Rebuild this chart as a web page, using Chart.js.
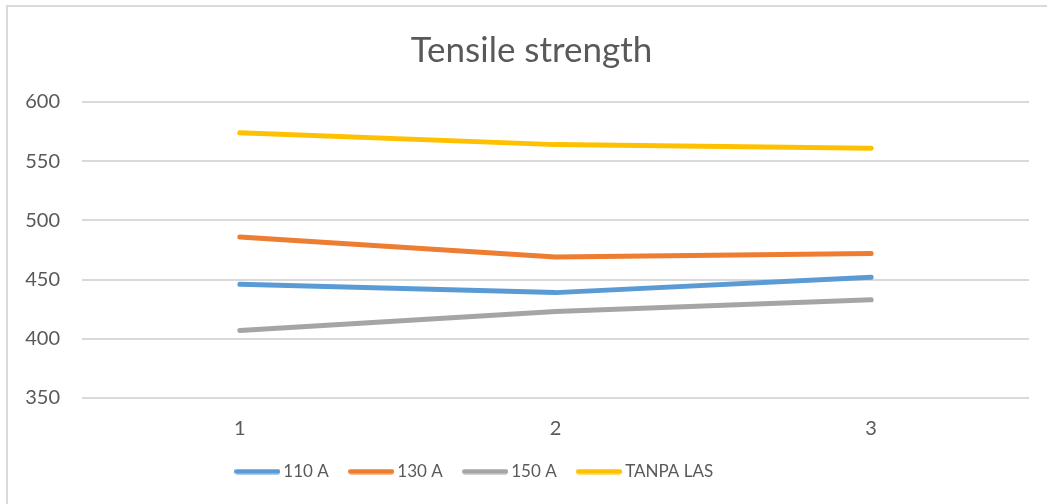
<!DOCTYPE html>
<html><head><meta charset="utf-8">
<script src="https://cdn.jsdelivr.net/npm/chart.js@4"></script>
<style>html,body{margin:0;padding:0;background:#fff}#wrap{width:1047px;height:504px;position:relative}</style>
</head><body><div id="wrap"><canvas id="c" width="1047" height="504"></canvas></div>
<script>
const categories = ['1', '2', '3'];
const seriesNames = ['110 A', '130 A', '150 A', 'TANPA LAS'];
const values110 = [446, 439, 452];
const values130 = [486, 469, 472];
const values150 = [407, 423, 433];
const valuesTanpa = [574, 564, 561];
const yTickValues = [350, 400, 450, 500, 550, 600];
const seriesColors = ['#5B9BD5', '#ED7D31', '#A5A5A5', '#FFC000'];

const txt = '#595959';
const FONT = 'Lato';

function legendLine(color) {
  const c = document.createElement('canvas');
  c.width = 46; c.height = 6;
  const g = c.getContext('2d');
  g.strokeStyle = color;
  g.lineWidth = 5;
  g.lineCap = 'round';
  g.beginPath();
  g.moveTo(2.5, 3);
  g.lineTo(43.5, 3);
  g.stroke();
  return c;
}

const frame = {
  id: 'frame',
  beforeDraw(chart) {
    const ctx = chart.ctx;
    ctx.save();
    ctx.fillStyle = '#fff';
    ctx.fillRect(0, 0, chart.width, chart.height);
    ctx.strokeStyle = '#d9d9d9';
    ctx.lineWidth = 2;
    ctx.beginPath();
    ctx.moveTo(7, chart.height);
    ctx.lineTo(7, 6);
    ctx.lineTo(chart.width, 6);
    ctx.stroke();
    ctx.restore();
  }
};

// nudge title and legend boxes horizontally to sit where the reference has them
const boxShift = {
  id: 'boxShift',
  afterLayout(chart) {
    const lg = chart.legend;
    if (lg) { lg.left -= 38; lg.right -= 38; }
    const tt = chart.titleBlock;
    if (tt) { tt.left += 17; tt.right += 17; }
  }
};

const allSeries = [values110, values130, values150, valuesTanpa];
new Chart(document.getElementById('c'), {
  type: 'line',
  data: {
    labels: categories,
    datasets: allSeries.map((v, i) => ({
      label: seriesNames[i],
      data: v,
      borderColor: seriesColors[i],
      backgroundColor: seriesColors[i],
      borderWidth: 5,
      borderCapStyle: 'round',
      borderJoinStyle: 'round',
      pointRadius: 0,
      pointHoverRadius: 0,
      pointStyle: legendLine(seriesColors[i]),
      tension: 0,
      fill: false
    }))
  },
  options: {
    responsive: false,
    animation: false,
    devicePixelRatio: 1,
    layout: { padding: { left: 0, right: 18, top: 0, bottom: 14 } },
    plugins: {
      title: {
        display: true,
        text: 'Tensile strength',
        color: txt,
        font: { family: FONT, size: 35, weight: 'normal' },
        padding: { top: 30, bottom: 30 }
      },
      legend: {
        position: 'bottom',
        labels: {
          usePointStyle: true,
          pointStyleWidth: 35,
          color: txt,
          font: { family: FONT, size: 17 },
          padding: 25
        }
      },
      tooltip: { enabled: false }
    },
    scales: {
      x: {
        offset: true,
        grid: { display: false, drawTicks: false },
        border: { display: false },
        ticks: { color: txt, font: { family: FONT, size: 20 }, padding: 19 },
        afterFit(s) { s.height = 40; }
      },
      y: {
        min: 350,
        max: 600,
        afterBuildTicks(s) { s.ticks = yTickValues.map(v => ({ value: v })); },
        grid: { color: '#d9d9d9', lineWidth: 2, drawTicks: false },
        border: { display: false },
        ticks: { color: txt, font: { family: FONT, size: 20 }, padding: 22 },
        afterFit(s) { s.width = 82; }
      }
    }
  },
  plugins: [frame, boxShift]
});
</script></body></html>
